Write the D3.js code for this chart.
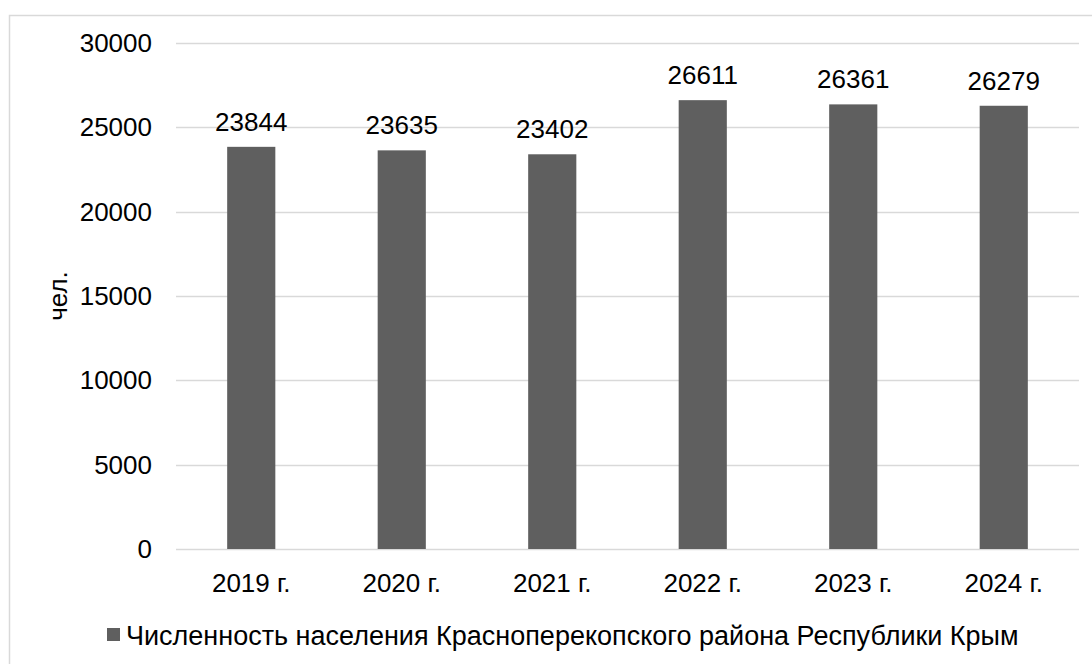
<!DOCTYPE html>
<html><head><meta charset="utf-8">
<script src="https://cdn.jsdelivr.net/npm/d3@7"></script>
<style>
html,body{margin:0;padding:0;background:#fff;}
text{font-family:"Liberation Sans",Arial,sans-serif;fill:#000;}
</style></head>
<body><svg id="c" width="1092" height="664"></svg>
<script>
const categories = ["2019 г.","2020 г.","2021 г.","2022 г.","2023 г.","2024 г."];
const values = [23844,23635,23402,26611,26361,26279];
const yTicks = [0,5000,10000,15000,20000,25000,30000];
const seriesName = "Численность населения Красноперекопского района Республики Крым";
const yTitle = "чел.";

(function(){
const svg = d3.select("#c");
svg.append("rect").attr("x",9.5).attr("y",15.5).attr("width",1090).attr("height",660)
  .attr("fill","#fff").attr("stroke","#d9d9d9").attr("stroke-width",1.5);

const pL=176,pR=1079,pT=43,pB=549;
const x = d3.scaleBand().domain(categories).range([pL,pR]).paddingInner(0.68).paddingOuter(0.34);
const y = d3.scaleLinear().domain([0,30000]).range([pB,pT]);

svg.append("g").selectAll("line").data(yTicks).join("line")
  .attr("x1",pL).attr("x2",pR).attr("y1",d=>Math.round(y(d))+0.5).attr("y2",d=>Math.round(y(d))+0.5)
  .attr("stroke","#d9d9d9").attr("stroke-width",1.5);

svg.append("g").selectAll("text").data(yTicks).join("text")
  .attr("x",152).attr("y",d=>y(d)).attr("dy","0.35em").attr("text-anchor","end")
  .style("font-size","26px").text(d=>d);

svg.append("g").selectAll("rect").data(values).join("rect")
  .attr("x",(d,i)=>x(categories[i])).attr("width",x.bandwidth())
  .attr("y",d=>y(d)).attr("height",d=>y(0)-y(d)).attr("fill","#5f5f5f");

svg.append("g").selectAll("text").data(values).join("text")
  .attr("x",(d,i)=>x(categories[i])+x.bandwidth()/2).attr("y",d=>y(d)-16)
  .attr("text-anchor","middle").style("font-size","26px").text(d=>d);

svg.append("g").selectAll("text").data(categories).join("text")
  .attr("x",d=>x(d)+x.bandwidth()/2).attr("y",592)
  .attr("text-anchor","middle").style("font-size","26px").text(d=>d);

svg.append("text").attr("transform",`translate(67,${(pT+pB)/2}) rotate(-90)`)
  .attr("text-anchor","middle").style("font-size","26px").text(yTitle);

const lg = svg.append("g");
lg.append("rect").attr("x",107).attr("y",628).attr("width",13).attr("height",13).attr("fill","#5f5f5f");
lg.append("text").attr("x",126).attr("y",645).style("font-size","27px").text(seriesName);
})();
</script></body></html>
